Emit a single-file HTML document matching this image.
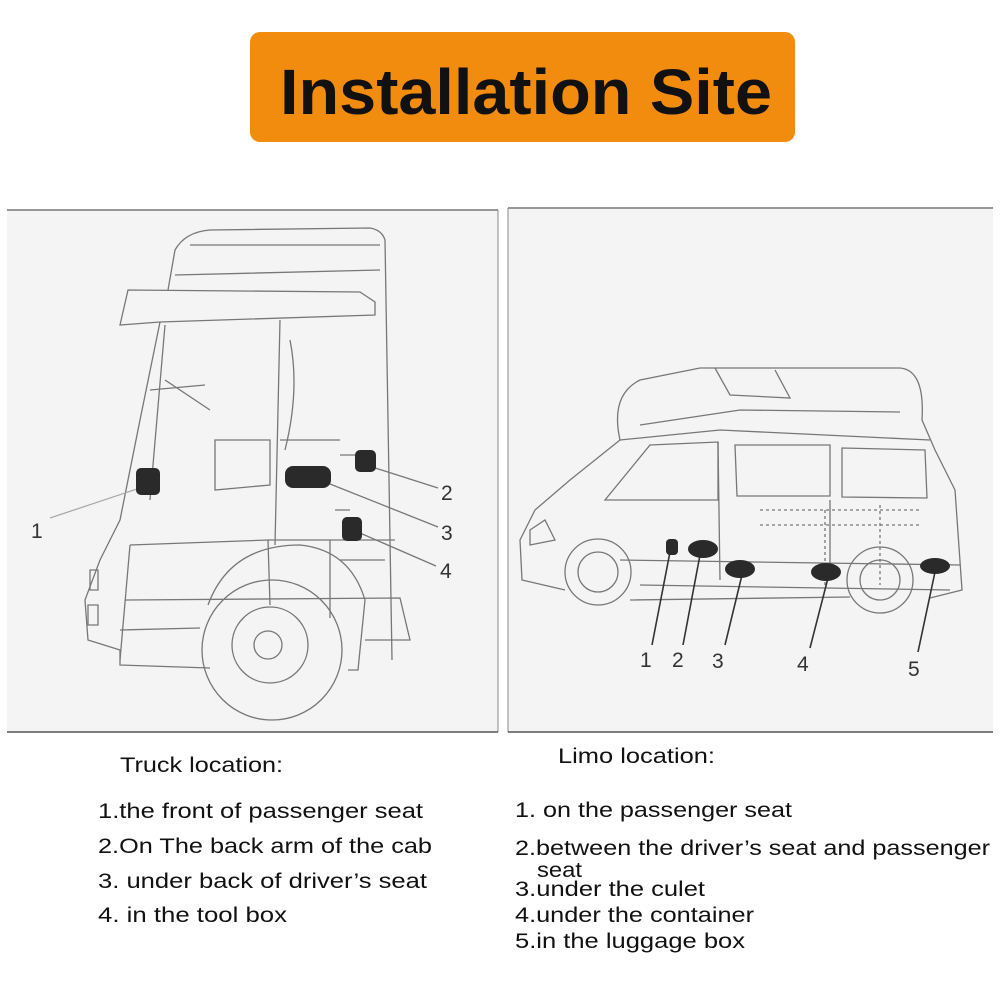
<!DOCTYPE html>
<html><head><meta charset="utf-8"><style>
html,body{margin:0;padding:0;background:#fff;}
body{width:1000px;height:1000px;position:relative;overflow:hidden;font-family:"Liberation Sans",sans-serif;}
.banner{position:absolute;left:250px;top:32px;width:545px;height:110px;background:#f28c0f;border-radius:10px;}
svg{position:absolute;left:0;top:0;}
</style></head><body>
<div class="banner"></div>
<svg width="1000" height="1000" viewBox="0 0 1000 1000">
<text x="280" y="114" textLength="492" lengthAdjust="spacingAndGlyphs" font-family="Liberation Sans, sans-serif" font-size="64" font-weight="bold" fill="#111">Installation Site</text>
<rect x="7" y="210" width="491" height="522" fill="#f4f4f4"/>
<rect x="508" y="208" width="485" height="524" fill="#f4f4f4"/>
<line x1="7" y1="210" x2="498" y2="210" stroke="#777" stroke-width="1.5"/>
<line x1="498" y1="210" x2="498" y2="732" stroke="#888"/>
<line x1="7" y1="732" x2="498" y2="732" stroke="#555" stroke-width="1.5"/>
<line x1="508" y1="208" x2="993" y2="208" stroke="#777" stroke-width="1.5"/>
<line x1="508" y1="208" x2="508" y2="732" stroke="#888"/>
<line x1="508" y1="732" x2="993" y2="732" stroke="#555" stroke-width="1.5"/>

<g fill="none" stroke="#777" stroke-width="1.3">
<path d="M168,290 L175,250 Q185,232 210,230 L370,228 Q382,230 385,240 L392,660"/>
<path d="M120,325 L128,290 L360,292 L375,302 L375,315 L160,322 Z"/>
<path d="M190,245 L380,245 M175,275 L380,270"/>
<path d="M160,322 L140,420 L120,520 L100,560 L85,600 L88,640 L120,650 L120,665 L210,668"/>
<path d="M165,325 L150,500 M280,320 L275,545"/>
<path d="M130,545 L268,540 L270,605 M130,545 L120,660"/>
<path d="M268,540 L330,540 L330,618 M275,540 L395,540"/>
<path d="M208,605 Q230,545 300,545 Q350,550 365,600 L358,670 L348,670"/>
<path d="M125,600 L400,598 L410,640 L365,640 M120,630 L200,628"/>
<path d="M150,390 L205,385 M165,380 L210,410 M215,440 L270,440 L270,485 L215,490 Z"/>
<path d="M290,340 Q300,390 285,450"/>
<path d="M280,440 L340,440 M340,455 L360,455"/>
<path d="M335,510 L350,510 M340,560 L385,560"/>
<circle cx="272" cy="650" r="70"/><circle cx="270" cy="645" r="38"/><circle cx="268" cy="645" r="14"/>
<path d="M90,570 L98,570 L98,590 L90,590 Z M88,605 L98,605 L98,625 L88,625 Z"/>
<line x1="50" y1="518" x2="140" y2="488" stroke="#aaa"/>
<line x1="372" y1="467" x2="438" y2="488"/>
<line x1="320" y1="480" x2="438" y2="527"/>
<line x1="360" y1="533" x2="436" y2="566"/>
<path d="M620,440 Q610,395 640,380 L700,368 L900,368 Q925,370 922,420 L935,450 L955,490 L962,590 L930,598"/>
<path d="M620,440 L720,430 L930,440 M640,425 L740,410 L900,412"/>
<path d="M715,368 L730,395 L790,398 L775,370"/>
<path d="M620,440 L570,480 L535,510 L520,540 L522,580 L565,590 M630,600 L850,597"/>
<path d="M605,500 L718,500 L718,442 L650,445 Z" />
<path d="M735,445 L830,445 L830,496 L737,496 Z M842,448 L925,450 L927,498 L842,497 Z"/>
<path d="M718,442 L720,580 M830,500 L830,580"/>
<path d="M530,530 L545,520 L555,540 L530,545 Z"/>
<path d="M620,560 L960,565 M640,585 L950,590"/>
<path d="M760,510 L920,510 M760,525 L920,525 M825,510 L825,585 M880,505 L880,585" stroke-dasharray="3,3"/>
<circle cx="598" cy="572" r="33"/><circle cx="598" cy="572" r="20"/>
<circle cx="880" cy="580" r="33"/><circle cx="880" cy="580" r="20"/>
<line x1="670" y1="552" x2="652" y2="645" stroke="#333" stroke-width="1.6"/>
<line x1="700" y1="555" x2="683" y2="645" stroke="#333" stroke-width="1.6"/>
<line x1="742" y1="575" x2="725" y2="645" stroke="#333" stroke-width="1.6"/>
<line x1="828" y1="578" x2="810" y2="648" stroke="#333" stroke-width="1.6"/>
<line x1="935" y1="572" x2="918" y2="652" stroke="#333" stroke-width="1.6"/>
</g>
<g fill="#2a2a2a">
<rect x="136" y="468" width="24" height="27" rx="5"/>
<rect x="355" y="450" width="21" height="22" rx="5"/>
<rect x="285" y="466" width="46" height="22" rx="8"/>
<rect x="342" y="517" width="20" height="24" rx="5"/>
<rect x="666" y="539" width="12" height="16" rx="4"/>
<ellipse cx="703" cy="549" rx="15" ry="9"/>
<ellipse cx="740" cy="569" rx="15" ry="9"/>
<ellipse cx="826" cy="572" rx="15" ry="9"/>
<ellipse cx="935" cy="566" rx="15" ry="8"/>
</g>
<g font-family="Liberation Sans, sans-serif" font-size="21" fill="#333">
<text x="31" y="538">1</text><text x="441" y="500">2</text><text x="441" y="540">3</text><text x="440" y="578">4</text>
<text x="640" y="667">1</text><text x="672" y="667">2</text><text x="712" y="668">3</text><text x="797" y="671">4</text><text x="908" y="676">5</text>
</g>
<g font-family="Liberation Sans, sans-serif" font-size="21" fill="#111">
<text x="120" y="772" textLength="163" lengthAdjust="spacingAndGlyphs">Truck location:</text>
<text x="98" y="818" textLength="325" lengthAdjust="spacingAndGlyphs">1.the front of passenger seat</text>
<text x="98" y="853" textLength="334" lengthAdjust="spacingAndGlyphs">2.On The back arm of the cab</text>
<text x="98" y="888" textLength="329" lengthAdjust="spacingAndGlyphs">3. under back of driver’s seat</text>
<text x="98" y="922" textLength="189" lengthAdjust="spacingAndGlyphs">4. in the tool box</text>
<text x="558" y="763" textLength="157" lengthAdjust="spacingAndGlyphs">Limo location:</text>
<text x="515" y="817" textLength="277" lengthAdjust="spacingAndGlyphs">1. on the passenger seat</text>
<text x="515" y="855" textLength="475" lengthAdjust="spacingAndGlyphs">2.between the driver’s seat and passenger</text>
<text x="537" y="877" textLength="45" lengthAdjust="spacingAndGlyphs">seat</text>
<text x="515" y="896" textLength="190" lengthAdjust="spacingAndGlyphs">3.under the culet</text>
<text x="515" y="922" textLength="239" lengthAdjust="spacingAndGlyphs">4.under the container</text>
<text x="515" y="948" textLength="230" lengthAdjust="spacingAndGlyphs">5.in the luggage box</text>
</g>
</svg>
</body></html>
